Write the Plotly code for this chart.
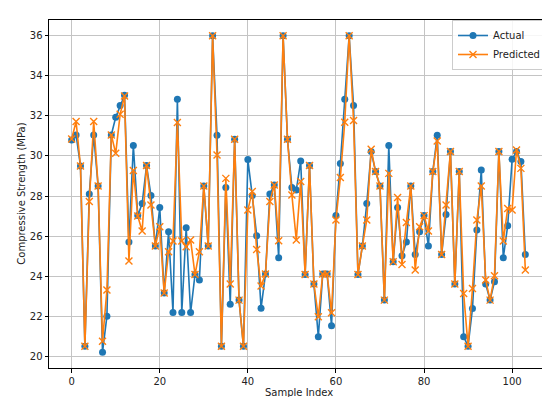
import plotly.graph_objects as go

sample_index = list(range(104))

actual = [
    30.8, 31.05, 29.5, 20.5, 28.1, 31.05, 28.5, 20.2, 22.0, 31.05,
    31.93, 32.52, 33.03, 25.7, 30.52, 27.02, 27.62, 29.52, 28.02, 25.5,
    27.42, 23.15, 26.22, 22.18, 32.83, 22.18, 26.42, 22.18, 24.08, 23.8,
    28.5, 25.5, 36.0, 31.03, 20.5, 28.42, 22.6, 30.83, 22.8, 20.5,
    29.82, 28.02, 26.02, 22.4, 24.1, 28.1, 28.55, 24.92, 36.0, 30.83,
    28.42, 28.3, 29.75, 24.08, 29.52, 23.6, 20.97, 24.1, 24.1, 21.52,
    27.02, 29.62, 32.83, 36.0, 32.52, 24.08, 25.5, 27.62, 30.22, 29.22,
    28.5, 22.8, 30.52, 24.72, 27.42, 25.02, 25.7, 28.5, 25.08, 26.22,
    27.02, 25.5, 29.22, 31.03, 25.08, 27.08, 30.22, 23.6, 29.22, 20.97,
    20.5, 22.38, 26.3, 29.3, 23.6, 22.8, 23.72, 30.22, 24.92, 26.52,
    29.83, 30.22, 29.72, 25.08,
]

predicted = [
    30.85, 31.72, 29.5, 20.5, 27.72, 31.72, 28.5, 20.75, 23.3, 31.05,
    30.13, 32.08, 33.0, 24.75, 29.27, 27.0, 26.25, 29.52, 27.55, 25.5,
    26.47, 23.15, 25.22, 25.75, 31.67, 25.75, 25.47, 25.8, 24.08, 25.22,
    28.5, 25.5, 36.0, 30.05, 20.5, 28.88, 23.6, 30.83, 22.8, 20.5,
    27.3, 28.22, 25.33, 23.5, 24.1, 27.72, 28.55, 25.77, 36.0, 30.83,
    28.05, 25.8, 28.72, 24.08, 29.52, 23.6, 21.97, 24.1, 24.1, 22.17,
    26.8, 28.92, 31.68, 36.0, 31.77, 24.08, 25.5, 26.8, 30.33, 29.22,
    28.5, 22.8, 29.13, 24.72, 27.93, 24.58, 26.68, 28.5, 24.3, 26.47,
    27.02, 26.25, 29.22, 30.75, 25.08, 27.55, 30.22, 23.6, 29.22, 23.13,
    20.5, 23.38, 26.8, 28.5, 23.8, 22.8, 24.02, 30.22, 25.75, 27.38,
    27.3, 30.3, 29.38, 24.3,
]

x_title = "Sample Index"
y_title = "Compressive Strength (MPa)"

fig = go.Figure()
fig.add_trace(go.Scatter(
    x=sample_index, y=actual, name="Actual", mode="lines+markers",
    line=dict(color="#1f77b4", width=1.6),
    marker=dict(symbol="circle", size=7, color="#1f77b4"),
))
fig.add_trace(go.Scatter(
    x=sample_index, y=predicted, name="Predicted", mode="lines+markers",
    line=dict(color="#ff7f0e", width=1.6),
    marker=dict(symbol="x-thin", size=7, color="#ff7f0e",
                line=dict(color="#ff7f0e", width=1.4)),
))

axis_common = dict(
    showline=True, linecolor="#000000", linewidth=1, mirror=True,
    ticks="outside", ticklen=3.5, tickwidth=1, tickcolor="#000000",
    showgrid=True, gridcolor="#c4c4c4", gridwidth=1, zeroline=False,
    automargin=False,
    tickfont=dict(family="DejaVu Sans", size=10, color="#222222"),
)

fig.update_layout(
    width=550, height=397,
    margin=dict(l=41, r=10, t=12, b=37),
    paper_bgcolor="white", plot_bgcolor="white",
    font=dict(family="DejaVu Sans", size=10, color="#222222"),
    xaxis=dict(range=[-5.15, 108.15], dtick=20, tick0=0, **axis_common),
    yaxis=dict(range=[19.41, 36.79], dtick=2, tick0=20, **axis_common),
    legend=dict(x=0.996, y=1.0, xanchor="right", yanchor="top",
                bgcolor="rgba(255,255,255,0.85)", bordercolor="#cccccc",
                borderwidth=1, font=dict(family="DejaVu Sans", size=10, color="#222222"),
                itemwidth=30, tracegroupgap=0),
    showlegend=True,
    annotations=[
        dict(text=x_title, xref="paper", yref="paper", x=0.5, y=-0.0698,
             xanchor="center", yanchor="middle", showarrow=False,
             font=dict(family="DejaVu Sans", size=10, color="#222222")),
        dict(text=y_title, xref="paper", yref="paper", x=-0.0567, y=0.5,
             xanchor="center", yanchor="middle", showarrow=False, textangle=-90,
             font=dict(family="DejaVu Sans", size=10, color="#222222")),
    ],
)

fig.write_html("out.html")
